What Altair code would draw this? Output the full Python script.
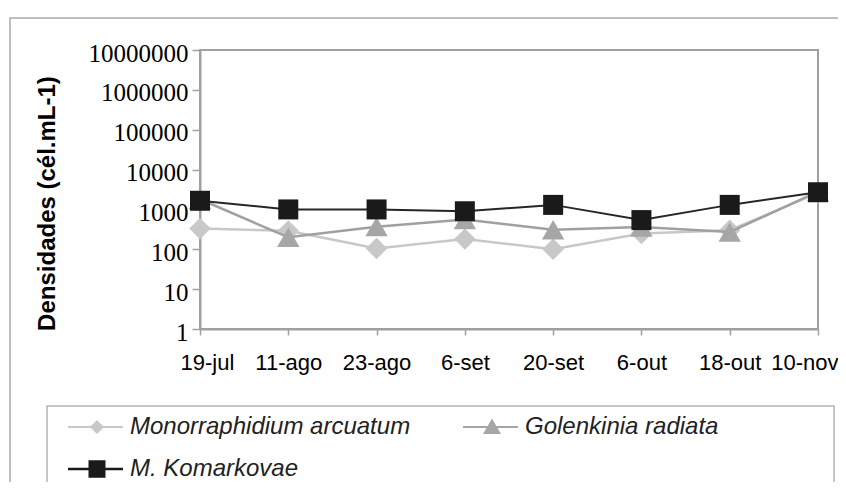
import altair as alt
import pandas as pd

dates = ["19-jul", "11-ago", "23-ago", "6-set", "20-set", "6-out", "18-out", "10-nov"]
mono = [330, 290, 105, 180, 100, 250, 300, 2600]
gol = [1800, 200, 370, 560, 310, 360, 270, 2800]
kom = [1650, 1000, 1000, 900, 1300, 540, 1300, 2700]
names = ["Monorraphidium arcuatum", "Golenkinia radiata", "M. Komarkovae"]
colors = ["#c8c8c8", "#a6a6a6", "#1a1a1a"]
line_colors = ["#c8c8c8", "#a0a0a0", "#262626"]
line_widths = [2.5, 2.5, 2]
shapes = ["diamond", "triangle-up", "square"]
sizes = [460, 500, 400]
y_ticks = [1, 10, 100, 1000, 10000, 100000, 1000000, 10000000]

# legend symbols: short line with the marker on it (units of 10 px)
legend_paths = [
    "M-1,-0.1H4.5V0.1H-1Z M1.9,-0.7L2.6,0L1.9,0.7L1.2,0Z",
    "M-1,-0.1H4.5V0.1H-1Z M1.9,-0.85L2.8,0.7H1.0Z",
    "M-1,-0.13H4.5V0.13H-1Z M1.05,-0.88H2.75V0.88H1.05Z",
]

rows = []
for name, vals in zip(names, [mono, gol, kom]):
    for d, v in zip(dates, vals):
        rows.append({"data": d, "serie": name, "valor": v})
df = pd.DataFrame(rows)

GREY = "#a0a0a0"

x = alt.X(
    "data:N", sort=dates, scale=alt.Scale(type="point", padding=0),
    axis=alt.Axis(title=None, labelFont="Liberation Sans", labelFontSize=22,
                  labelColor="black", labelPadding=17, tickSize=6, tickColor=GREY,
                  domainColor=GREY, domainWidth=2, tickWidth=1.5, labelAngle=0,
                  labelOverlap=False, labelFlush=True, labelFlushOffset=20,
                  grid=False),
)
y = alt.Y(
    "valor:Q", scale=alt.Scale(type="log", domain=[1, 10000000]),
    axis=alt.Axis(values=y_ticks, format="d", labelFont="Liberation Serif",
                  labelFontSize=25, labelColor="black", tickSize=8, labelPadding=4,
                  tickColor=GREY, domainColor=GREY, domainWidth=2, tickWidth=1.5,
                  labelOffset=3, grid=False,
                  title="Densidades (cél.mL-1)", titleFont="Liberation Sans",
                  titleFontWeight="bold", titleFontSize=24, titleColor="black",
                  titleX=-153, titleY=153, titleAngle=270, titleAlign="center",
                  titleBaseline="middle"),
)

layers = []
# outer chart frame and legend box (decoration)
frame = alt.Chart(alt.Data(values=[{"k": 1}])).mark_rect(
    fillOpacity=0, stroke="#aaaaaa", strokeWidth=1.5
).encode(x=alt.value(-190), x2=alt.value(700), y=alt.value(-32), y2=alt.value(520))
legend_box = alt.Chart(alt.Data(values=[{"k": 1}])).mark_rect(
    fill="white", stroke="#b4b4b4", strokeWidth=1.5
).encode(x=alt.value(-153), x2=alt.value(634), y=alt.value(356), y2=alt.value(520))
layers += [frame, legend_box]

for name, c, lc, lw, sh, sz in zip(names, colors, line_colors, line_widths, shapes, sizes):
    base = alt.Chart(df).transform_filter(alt.datum.serie == name)
    layers.append(base.mark_line(color=lc, strokeWidth=lw).encode(x=x, y=y))
    layers.append(base.mark_point(shape=sh, size=sz, filled=True, fill=c, opacity=1,
                                  strokeWidth=0).encode(x=x, y=y))

leg = alt.Legend(
    title=None, orient="none", legendX=-150, legendY=349, columns=2,
    direction="horizontal", padding=16,
    symbolSize=400, symbolOpacity=1, symbolStrokeWidth=0,
    labelFont="Liberation Sans", labelFontSize=24, labelFontStyle="italic",
    labelColor="#222222", labelLimit=500, labelOffset=40,
    columnPadding=50, rowPadding=18, gridAlign="all",
)
legend_layer = alt.Chart(df).mark_point(filled=True, opacity=0).encode(
    x=x, y=y,
    color=alt.Color("serie:N", scale=alt.Scale(domain=names, range=colors), legend=leg),
    shape=alt.Shape("serie:N", scale=alt.Scale(domain=names, range=legend_paths), legend=leg),
)
layers.append(legend_layer)

chart = alt.layer(*layers).properties(
    width=618, height=279,
    autosize=alt.AutoSizeParams(type="none"),
    padding={"left": 192, "top": 42, "right": 20, "bottom": 153},
    background="white",
).configure_view(stroke=GREY, strokeWidth=2)

chart.save("out.html", embed_options={"renderer": "svg", "actions": False})
